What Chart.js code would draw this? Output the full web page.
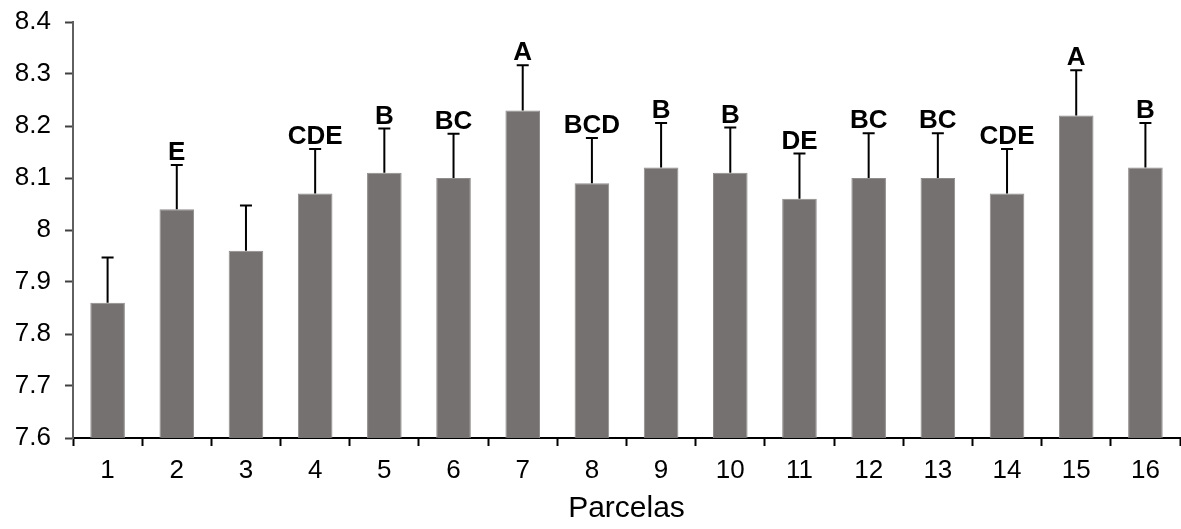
<!DOCTYPE html>
<html>
<head>
<meta charset="utf-8">
<script src="https://cdn.jsdelivr.net/npm/chart.js@4"></script>
<style>
  html, body { margin: 0; padding: 0; background: #fff; }
  #wrap { width: 1181px; height: 529px; }
</style>
</head>
<body>
<div id="wrap"><canvas id="chart" width="1181" height="529"></canvas></div>
<script>
// Data
const parcelas = ['1', '2', '3', '4', '5', '6', '7', '8', '9', '10', '11', '12', '13', '14', '15', '16'];
const means = [7.86, 8.04, 7.96, 8.07, 8.11, 8.10, 8.23, 8.09, 8.12, 8.11, 8.06, 8.10, 8.10, 8.07, 8.22, 8.12];
const errors = [0.087, 0.085, 0.087, 0.086, 0.085, 0.085, 0.087, 0.087, 0.086, 0.087, 0.087, 0.086, 0.086, 0.086, 0.087, 0.086];
const letters = ['', 'E', '', 'CDE', 'B', 'BC', 'A', 'BCD', 'B', 'B', 'DE', 'BC', 'BC', 'CDE', 'A', 'B'];

const FONT = "'Liberation Sans', Arial, sans-serif";

// Draws the upper error bars and the letter groups above them
const errorBars = {
    id: 'errorBars',
    afterDatasetsDraw(chart) {
        const ctx = chart.ctx;
        const yScale = chart.scales.y;
        const bars = chart.getDatasetMeta(0).data;
        ctx.save();
        ctx.strokeStyle = '#000';
        ctx.lineWidth = 2;
        bars.forEach((bar, i) => {
            const top = yScale.getPixelForValue(means[i] + errors[i]);
            ctx.beginPath();
            ctx.moveTo(bar.x, bar.y);
            ctx.lineTo(bar.x, top);
            ctx.moveTo(bar.x - 6, top);
            ctx.lineTo(bar.x + 6, top);
            ctx.stroke();
            if (letters[i]) {
                ctx.fillStyle = '#000';
                ctx.font = `bold 26px ${FONT}`;
                ctx.textAlign = 'center';
                ctx.textBaseline = 'alphabetic';
                ctx.fillText(letters[i], bar.x, top - 5);
            }
        });
        ctx.restore();
    }
};

new Chart(document.getElementById('chart'), {
    type: 'bar',
    data: {
        labels: parcelas,
        datasets: [{
            data: means,
            backgroundColor: '#767171',
            borderColor: '#908c8c',
            borderWidth: 1,
            barPercentage: 0.5,
            categoryPercentage: 1.0
        }]
    },
    options: {
        responsive: false,
        animation: false,
        layout: { padding: { top: 22, right: 1, left: 0, bottom: 0 } },
        plugins: {
            legend: { display: false },
            tooltip: { enabled: false }
        },
        scales: {
            x: {
                offset: true,
                grid: {
                    offset: true,
                    drawOnChartArea: false,
                    drawTicks: true,
                    tickLength: 8,
                    tickWidth: 2,
                    tickColor: '#000'
                },
                border: { color: '#000', width: 2 },
                ticks: {
                    color: '#000',
                    padding: 9,
                    font: { family: FONT, size: 26 }
                },
                title: {
                    display: true,
                    text: 'Parcelas',
                    color: '#000',
                    font: { family: FONT, size: 30 },
                    padding: { top: 2, bottom: 2 }
                },
                afterFit(scale) { scale.height = 91; }
            },
            y: {
                min: 7.6,
                max: 8.4,
                grid: {
                    drawOnChartArea: false,
                    drawTicks: true,
                    tickLength: 8,
                    tickWidth: 2,
                    tickColor: '#404040'
                },
                border: { color: '#606060', width: 2 },
                ticks: {
                    stepSize: 0.1,
                    color: '#000',
                    padding: 14,
                    font: { family: FONT, size: 26, lineHeight: 0.6 },
                    callback: v => String(Number(v.toFixed(1)))
                },
                afterFit(scale) { scale.width = 73; }
            }
        }
    },
    plugins: [errorBars]
});
</script>
</body>
</html>
